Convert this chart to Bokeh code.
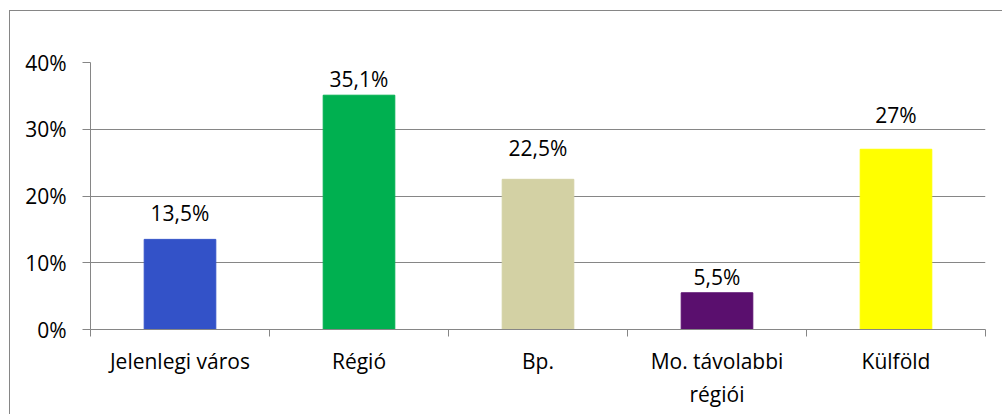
from bokeh.plotting import figure
from bokeh.models import FixedTicker, Range1d, ColumnDataSource
from bokeh.core.properties import value
from bokeh.embed import file_html
from bokeh.resources import INLINE

categories = ["Jelenlegi város", "Régió", "Bp.", "Mo. távolabbi\nrégiói", "Külföld"]
values = [13.5, 35.1, 22.5, 5.5, 27.0]
value_labels = ["13,5%", "35,1%", "22,5%", "5,5%", "27%"]
colors = ["#3352C8", "#00B050", "#D3D1A4", "#5A0F6E", "#FFFF00"]
y_ticks = [0, 10, 20, 30, 40]
y_tick_labels = ["0%", "10%", "20%", "30%", "40%"]

# style: pixel lift of each data label above its bar (as placed in the original)
label_lift = [-26, -16, -31, -16, -34]

FONT = "Open Sans"
FSIZE = "21px"
GRAY = "#868686"

xs = [i + 0.5 for i in range(len(categories))]
src = ColumnDataSource(dict(x=xs, top=values, color=colors, label=value_labels,
                            lift=label_lift))

p = figure(width=1002, height=414, output_backend="svg", toolbar_location=None,
           x_range=Range1d(0, len(categories)), y_range=Range1d(0, 40),
           min_border_left=90, min_border_top=62, min_border_right=17, min_border_bottom=85)
p.outline_line_color = None
p.background_fill_color = "white"
p.border_fill_color = None
p.border_fill_alpha = 0
p.styles = {
    "background-color": "white",
    "background-image": f"linear-gradient({GRAY},{GRAY}), linear-gradient({GRAY},{GRAY})",
    "background-size": "100% 1px, 1px 100%",
    "background-position": "9px 10px, 9px 10px",
    "background-repeat": "no-repeat",
}

p.vbar(x="x", top="top", width=0.4, color="color", source=src)
p.text(x="x", y="top", text="label", source=src, text_align="center",
       text_baseline="alphabetic", y_offset="lift", text_font=value(FONT),
       text_font_size=FSIZE, text_color="#000000")

# x axis
xa = p.xaxis[0]
xa.ticker = FixedTicker(ticks=xs, minor_ticks=list(range(len(categories) + 1)))
xa.major_label_overrides = {x: c for x, c in zip(xs, categories)}
xa.major_tick_line_color = None
xa.major_tick_out = 0
xa.major_tick_in = 0
xa.minor_tick_out = 7
xa.minor_tick_in = 0
xa.minor_tick_line_color = GRAY
xa.axis_line_color = GRAY
xa.major_label_text_font = FONT
xa.major_label_text_font_size = FSIZE
xa.major_label_text_color = "#000000"
xa.major_label_standoff = 10

ya = p.yaxis[0]
ya.ticker = FixedTicker(ticks=y_ticks)
ya.major_label_overrides = {t: l for t, l in zip(y_ticks, y_tick_labels)}
ya.major_tick_out = 8
ya.major_tick_in = 0
ya.major_tick_line_color = GRAY
ya.minor_tick_line_color = None
ya.axis_line_color = GRAY
ya.major_label_text_font = FONT
ya.major_label_text_font_size = FSIZE
ya.major_label_text_color = "#000000"
ya.major_label_standoff = 16

p.xgrid.grid_line_color = None
p.ygrid.grid_line_color = GRAY
p.ygrid.ticker = FixedTicker(ticks=y_ticks)

open("out.html", "w").write(file_html(p, INLINE))
